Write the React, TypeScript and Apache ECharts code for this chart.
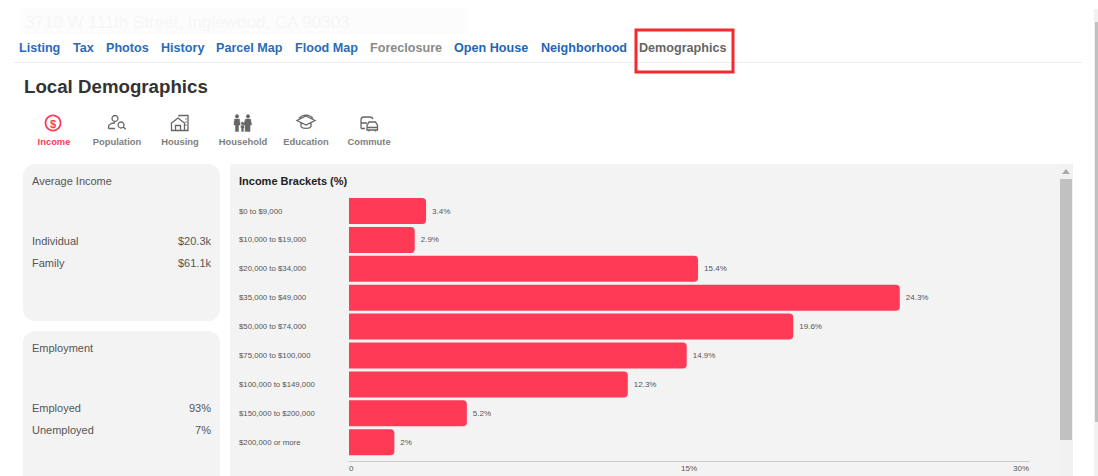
import React, { useEffect, useRef } from "react";
import * as echarts from "echarts";

const categories = ["$0 to $9,000", "$10,000 to $19,000", "$20,000 to $34,000", "$35,000 to $49,000", "$50,000 to $74,000", "$75,000 to $100,000", "$100,000 to $149,000", "$150,000 to $200,000", "$200,000 or more"];
const values = [3.4, 2.9, 15.4, 24.3, 19.6, 14.9, 12.3, 5.2, 2];
const chartTitle = "Income Brackets (%)";
const navTabs: [string, number, string][] = [
  ["Listing", 19, "#2b6cb8"], ["Tax", 73, "#2b6cb8"], ["Photos", 106, "#2b6cb8"], ["History", 161, "#2b6cb8"],
  ["Parcel Map", 216, "#2b6cb8"], ["Flood Map", 295, "#2b6cb8"], ["Foreclosure", 370, "#8a8a8a"],
  ["Open House", 454, "#1f66b5"], ["Neighborhood", 541, "#1f66b5"], ["Demographics", 639, "#666666"],
];
const iconTabs: [string, number][] = [["Income", 54], ["Population", 117], ["Housing", 180], ["Household", 243], ["Education", 306], ["Commute", 369]];
const incomeRows: [string, string][] = [["Individual", "$20.3k"], ["Family", "$61.1k"]];
const employmentRows: [string, string][] = [["Employed", "93%"], ["Unemployed", "7%"]];

const FONT = "Liberation Sans";
const RED = "#ff3a57";
const PANEL = "#f3f3f3";

const iconPaths: Record<string, string> = {
  iconPopulation: "M8 2.5a3 3 0 1 0 0.01 0Z M1.5 15.5v-1.5c0-2.5 3-4 6.5-4 M1.5 15.5H8 M14 9a3 3 0 1 0 0.01 0Z M16.2 14l2.6 2.2",
  iconHousing: "M1.5 17.5V10l6.5-5 6.5 5v7.5Z M5.5 17.5v-5h5v5 M9 3.5V2.5h9v15h-3.5 M15.5 6h1 M15.5 9h1 M15.5 12h1",
  iconHousehold: "M4 1.5a1.8 1.8 0 1 0 0.01 0Z M1.5 6h5l0.6 6H5.6v6.5H2.4V12H0.9Z M15 1.5a1.8 1.8 0 1 0 0.01 0Z M12.5 6h5l1.2 6h-1.6v6.5h-5V12h-1.6Z M9.5 9a1.4 1.4 0 1 0 0.01 0Z M8 12.5h3v2.5h-0.6v3.5H8.6V15H8Z",
  iconEducation: "M10 3 19 7.5 10 12 1 7.5Z M5 10v3.5c1.5 2.5 8.5 2.5 10 0V10 M3 5.5a9 9 0 0 1 14 0",
  iconCommute: "M2 15.5V7.5C2 5 3 4 5 4h6c1.5 0 2.5 0.5 3 2 M2 10h6 M6 15.5H2 M8 17v-4.5l2-3.5h6.5l2 3.5V17Z M8 14.5h10.5 M10 17v1.5 M16.5 17v1.5",
};
Object.keys(iconPaths).forEach((k) => {
  echarts.graphic.registerShape(k, echarts.graphic.extendPath(iconPaths[k] as any, {}) as any);
});

function txt(x: number, y: number, text: string, font: string, fill: string, align: string = "left") {
  return { type: "text", x, y, z: 1, style: { text, font: `${font} "${FONT}"`, fill, align, verticalAlign: "middle" } };
}
function box(x: number, y: number, width: number, height: number, r: number, fill: string, z = -2) {
  return { type: "rect", z, shape: { x, y, width, height, r }, style: { fill } };
}

export default function App() {
  const ref = useRef<HTMLDivElement>(null);
  useEffect(() => {
    document.body.style.margin = "0";
    const chart = echarts.init(ref.current!, null, { renderer: "svg" });
    const icon = (type: string, cx: number) => ({
      type, x: cx - 10, y: 113, z: 1,
      style: { fill: type === "iconHousehold" ? "#666" : "none", stroke: "#666", lineWidth: type === "iconHousehold" ? 0.4 : 1.3 },
    });
    const elements: any[] = [
      box(20, 8, 448, 26, 4, "#fcfcfc"),
      txt(25, 22, "3710 W 111th Street, Inglewood, CA 90303", "17px", "#f6f6f6"),
      ...navTabs.map(([t, x, c]) => txt(x, 48, t, "bold 12.6px", c)),
      { type: "line", z: -1, shape: { x1: 14, y1: 62.5, x2: 1082, y2: 62.5 }, style: { stroke: "#ececec", lineWidth: 1 } },
      { type: "rect", z: 1, shape: { x: 636, y: 30, width: 97, height: 42 }, style: { fill: "none", stroke: "#f5292f", lineWidth: 3 } },
      txt(24, 86, "Local Demographics", "bold 18.7px", "#333333"),
      { type: "circle", z: 1, shape: { cx: 53, cy: 123, r: 7.5 }, style: { fill: "none", stroke: RED, lineWidth: 1.8 } },
      txt(53, 123.5, "$", "bold 11px", RED, "center"),
      icon("iconPopulation", 117),
      icon("iconHousing", 180),
      icon("iconHousehold", 243),
      icon("iconEducation", 306),
      icon("iconCommute", 369),
      ...iconTabs.map(([t, x], i) => txt(x, 141, t, "bold 9.4px", i === 0 ? RED : "#808080", "center")),
      box(23, 164, 197, 157, 12, PANEL),
      box(23, 331, 197, 160, 12, PANEL),
      box(230, 164, 843, 320, 3, PANEL),
      box(1059, 164, 14, 312, 0, "#f1f1f1", -1),
      box(1060, 179, 12, 261, 0, "#c1c1c1", -1),
      { type: "polygon", z: 1, shape: { points: [[1062, 174], [1070, 174], [1066, 169]] }, style: { fill: "#a8a8a8" } },
      box(1094, 9, 4, 467, 0, "#f1f1f1", -1),
      box(1095, 22, 3, 400, 0, "#c1c1c1", -1),
      txt(32, 181, "Average Income", "11px", "#555555"),
      ...incomeRows.flatMap(([a, b], i) => [txt(32, 241 + i * 22, a, "11px", "#555555"), txt(211, 241 + i * 22, b, "11px", "#555555", "right")]),
      txt(32, 348, "Employment", "11px", "#555555"),
      ...employmentRows.flatMap(([a, b], i) => [txt(32, 408 + i * 22, a, "11px", "#555555"), txt(211, 408 + i * 22, b, "11px", "#555555", "right")]),
      txt(239, 181, chartTitle, "bold 11px", "#222222"),
    ];
    chart.setOption({
      animation: false,
      textStyle: { fontFamily: FONT },
      graphic: { elements },
      grid: { left: 349, top: 196.6, width: 680, height: 260, containLabel: false },
      xAxis: {
        type: "value", min: 0, max: 30, interval: 15, offset: 4.4,
        axisLine: { show: true, lineStyle: { color: "#cccccc", width: 1 } },
        axisTick: { show: false }, splitLine: { show: false },
        axisLabel: {
          fontSize: 8, color: "#555555", margin: 3, fontFamily: FONT,
          alignMinLabel: "left", alignMaxLabel: "right",
          formatter: (v: number) => (v === 0 ? "0" : `${v}%`),
        },
      },
      yAxis: {
        type: "category", inverse: true, data: categories,
        axisLine: { show: false }, axisTick: { show: false },
        axisLabel: { fontSize: 7.8, color: "#555555", align: "left", margin: 110, fontFamily: FONT },
      },
      series: [{
        type: "bar", data: values, barWidth: 26, z: 2,
        itemStyle: { color: RED, borderRadius: [0, 4, 4, 0] },
        label: { show: true, position: "right", distance: 6, fontSize: 8, color: "#555555", fontFamily: FONT, formatter: (p: any) => `${p.value}%` },
      }],
    });
    return () => chart.dispose();
  }, []);
  return <div ref={ref} style={{ position: "absolute", left: 0, top: 0, width: 1098, height: 476, overflow: "hidden" }} />;
}
